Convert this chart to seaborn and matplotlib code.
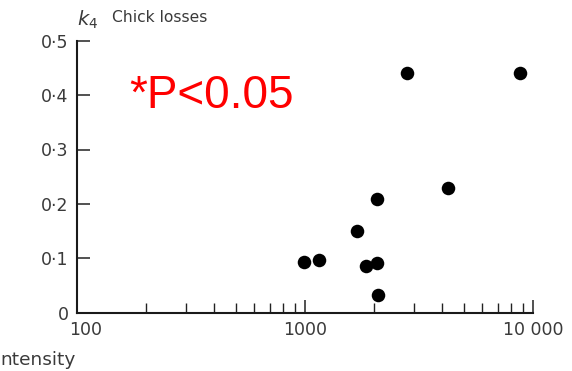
import matplotlib
matplotlib.use("Agg")
import matplotlib.pyplot as plt
import matplotlib.transforms as mtransforms
import seaborn as sns
import pandas as pd
from matplotlib.ticker import FixedLocator, FixedFormatter, NullFormatter

# data
intensity = [2800, 8800, 4230, 2060, 1690, 985, 1150, 1850, 2060, 2100]
k4 = [0.441, 0.441, 0.229, 0.209, 0.150, 0.093, 0.096, 0.086, 0.091, 0.033]

x_ticks = [100, 1000, 10000]
x_tick_labels = ["100", "1000", "10 000"]
x_minor = [200, 300, 400, 500, 600, 700, 800, 900,
           2000, 3000, 4000, 5000, 6000, 7000, 8000, 9000]
y_ticks = [0, 0.1, 0.2, 0.3, 0.4, 0.5]
y_tick_labels = ["0", "0·1", "0·2", "0·3", "0·4", "0·5"]

df = pd.DataFrame({"intensity": intensity, "k4": k4})

sns.set_theme(style="ticks")
plt.rcParams["font.family"] = ["DejaVu Sans"]

W, H = 572, 371
fig = plt.figure(figsize=(W / 100, H / 100), dpi=100)
ax = fig.add_axes([77 / W, 58.3 / H, (533 - 77) / W, (330.3 - 58.3) / H])

sns.scatterplot(data=df, x="intensity", y="k4", ax=ax, color="black",
                s=95, linewidth=0, legend=False)

ax.set_xscale("log")
ax.set_xlim(100, 10000)
ax.set_ylim(0, 0.5)
ax.xaxis.set_major_locator(FixedLocator(x_ticks))
ax.xaxis.set_major_formatter(FixedFormatter(x_tick_labels))
ax.xaxis.set_minor_locator(FixedLocator(x_minor))
ax.xaxis.set_minor_formatter(NullFormatter())
ax.yaxis.set_major_locator(FixedLocator(y_ticks))
ax.yaxis.set_major_formatter(FixedFormatter(y_tick_labels))
ax.yaxis.set_minor_locator(FixedLocator([]))

ax.set_xlabel("")
ax.set_ylabel("")
for s in ["top", "right"]:
    ax.spines[s].set_visible(False)
for s in ["left", "bottom"]:
    ax.spines[s].set_linewidth(1.5)
    ax.spines[s].set_color("#1a1a1a")
    ax.spines[s].set_capstyle("projecting")

ax.tick_params(axis="both", which="major", direction="in", length=9.5,
               width=1.1, color="#222222", labelcolor="#3a3a3a",
               labelsize=12.5)
ax.tick_params(axis="x", which="major", pad=6)
ax.tick_params(axis="y", which="major", pad=6)
ax.tick_params(axis="x", which="minor", direction="in", length=7,
               width=1.0, color="#222222")

# nudge the "100" label right, as in the reference
first = ax.xaxis.get_major_ticks()[0].label1
first.set_transform(first.get_transform() +
                    mtransforms.ScaledTranslation(9 / 100, 0, fig.dpi_scale_trans))

fig.text(77 / W, 1 - 20 / H, "$k_4$", fontsize=14, color="#3a3a3a",
         ha="left", va="center")
fig.text(112 / W, 1 - 17 / H, "Chick losses", fontsize=11.2,
         color="#3a3a3a", ha="left", va="center")
fig.text(129 / W, 1 - 108.3 / H, "*P<0.05", fontsize=33, color="#ff0000",
         family=["Liberation Sans", "DejaVu Sans"], ha="left", va="baseline")
fig.text(0, 1 - 365 / H, "ntensity", fontsize=13.3, color="#3a3a3a",
         ha="left", va="baseline")

fig.savefig("out.png", dpi=100, facecolor="white")
